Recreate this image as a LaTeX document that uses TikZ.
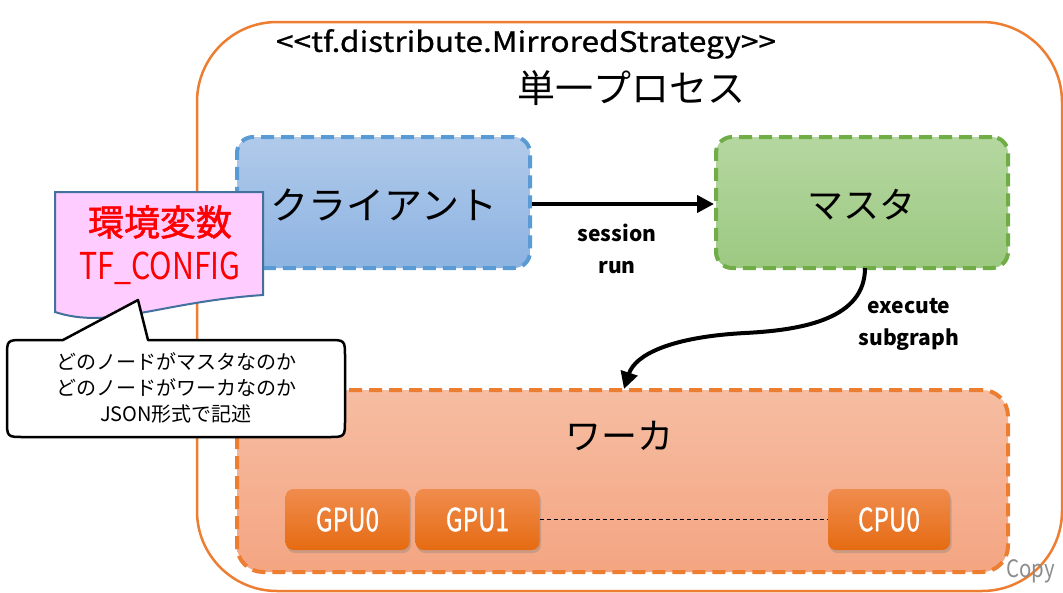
\documentclass[tikz,border=0pt]{standalone}
\usepackage{fontspec}
\usepackage{graphicx}
\setmainfont{Noto Sans CJK JP}
\usetikzlibrary{arrows.meta,shadows}
\definecolor{outerO}{HTML}{ED7D31}
\definecolor{cliB}{HTML}{5B9BD5}
\definecolor{cliT}{HTML}{B0CAEA}
\definecolor{cliBt}{HTML}{8DB3E2}
\definecolor{masG}{HTML}{70AD47}
\definecolor{masT}{HTML}{B5D7A0}
\definecolor{masBt}{HTML}{9CC982}
\definecolor{wrkT}{HTML}{F6BDA2}
\definecolor{wrkBt}{HTML}{F4A582}
\definecolor{devT}{HTML}{F08C4E}
\definecolor{devBt}{HTML}{E56B12}
\definecolor{pinkF}{HTML}{FFCCFF}
\definecolor{docB}{HTML}{41719C}
\definecolor{copyG}{HTML}{8C8C8C}
\tikzset{
  bigbox/.style={rounded corners=16pt, line width=4pt, dash pattern=on 13pt off 7pt,
    preaction={draw=white, line width=4pt, solid}, inner sep=0pt},
  clientbox/.style={bigbox, draw=cliB, top color=cliT, bottom color=cliBt,
    minimum width=293pt, minimum height=131pt},
  masterbox/.style={bigbox, draw=masG, top color=masT, bottom color=masBt,
    minimum width=292pt, minimum height=131pt},
  workerbox/.style={bigbox, rounded corners=26pt, draw=outerO, top color=wrkT, bottom color=wrkBt,
    minimum width=771pt, minimum height=182pt},
  devbox/.style={rounded corners=8pt, top color=devT, bottom color=devBt, text=white,
    minimum width=124pt, minimum height=61pt, inner sep=0pt,
    drop shadow={opacity=0.35, shadow xshift=1.5pt, shadow yshift=-3pt},
    font=\fontsize{32}{34}\selectfont\addfontfeature{FakeBold=1}},
  jpbig/.style={font=\fontsize{38}{44}\selectfont, inner sep=0pt},
  lbl/.style={font=\bfseries\fontsize{21}{32}\selectfont, align=center, inner sep=0pt},
  bigarrow/.style={line width=4pt, -{Triangle[length=17pt,width=17pt]}},
}
\begin{document}
\begin{tikzpicture}[x=1pt,y=-1pt]
\useasboundingbox (0,0) rectangle (1063,592);
% outer process frame
\draw[outerO, line width=2.5pt, rounded corners=80pt] (197,22) rectangle (1062,591);
\node[inner sep=0pt, font=\fontsize{28}{30}\selectfont\addfontfeature{FakeBold=0.8}] (title) at (526,44) {\scalebox{1.13}[1]{<{}<tf.distribute.MirroredStrategy>{}>}};
\node[jpbig] (proc) at (631,88) {単一プロセス};
% boxes
\node[clientbox] (client) at (383.5,202.5) {};
\node[jpbig] (clientT) at (384,205) {クライアント};
\node[masterbox] (master) at (862,202.5) {};
\node[jpbig, font=\fontsize{36}{44}\selectfont] (masterT) at (861,205) {マスタ};
\node[workerbox] (worker) at (622.5,481) {};
\node[jpbig, font=\fontsize{36}{44}\selectfont] (workerT) at (619,436) {ワーカ};
\node[devbox] (gpu0) at (347.5,519.5) {\scalebox{0.76}[1]{GPU0}};
\node[devbox] (gpu1) at (477.5,519.5) {\scalebox{0.76}[1]{GPU1}};
\node[devbox, minimum width=122pt] (cpu0) at (889,519.5) {\scalebox{0.76}[1]{CPU0}};
\draw[line width=1pt, dash pattern=on 4pt off 3pt] (gpu1.east) -- (cpu0.west);
% arrows
\draw[bigarrow] (client.east |- 0,204) -- (master.west |- 0,204);
\node[lbl] (sr) at (617,249) {session\\run};
\coordinate (mb) at (865,268);
\coordinate (wt) at (624,389);
\draw[bigarrow] (mb) .. controls (865,318) and (805,330) .. (745,333) .. controls (670,337) and (635,355) .. (wt);
\node[lbl] (es) at (909,324) {execute\\subgraph};
% TF_CONFIG document callout
\draw[docB, line width=2pt, fill=pinkF] (55,192) -- (263,192) -- (263,295) .. controls (160,302) and (110,330) .. (55,312) -- cycle;
\node[inner sep=0pt, text=red, font=\fontsize{36}{40}\selectfont\addfontfeature{FakeBold=1.5}] (env) at (160,222) {環境変数};
\node[inner sep=0pt, text=red, font=\fontsize{37}{40}\selectfont] (tfc) at (160,268) {\scalebox{0.82}[1]{TF\_CONFIG}};
% speech bubble
\draw[black, line width=2.5pt, fill=white, line join=round]
  (63,340) -- (138,300) -- (148,340) -- (328,340) .. controls (345,340) .. (345,357)
  -- (345,420) .. controls (345,437) .. (328,437) -- (24,437) .. controls (7,437) .. (7,420)
  -- (7,357) .. controls (7,340) .. (24,340) -- cycle;
\node[inner sep=0pt, align=center, font=\fontsize{20}{26}\selectfont] (note) at (176,388)
  {どのノードがマスタなのか\\どのノードがワーカなのか\\JSON形式で記述};
\node[inner sep=0pt, anchor=west, text=copyG, font=\fontsize{24}{28}\selectfont] (copy) at (1006,571) {\scalebox{0.85}[1]{Copy}};
\end{tikzpicture}
\end{document}
